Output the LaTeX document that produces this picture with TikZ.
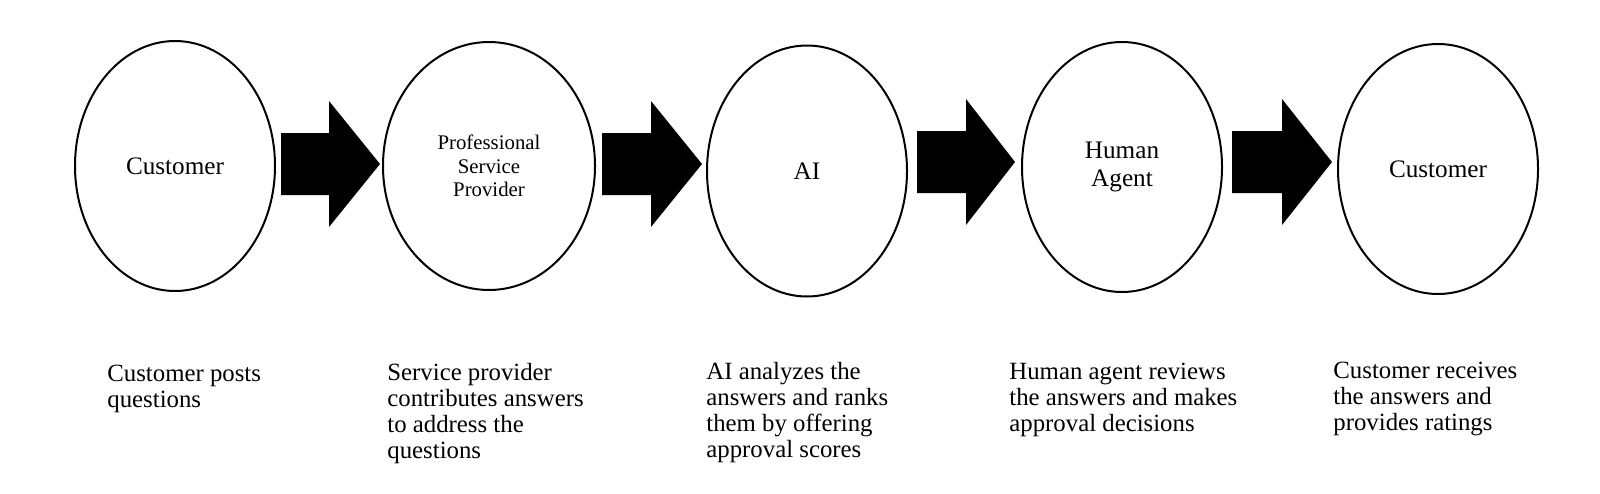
\documentclass[tikz,border=0pt]{standalone}
\usepackage{fontspec}
\setmainfont{Liberation Serif}
\usetikzlibrary{shapes.geometric}
\tikzset{
  stage/.style={ellipse, draw=black, line width=1pt, inner sep=0pt, minimum width=100pt, minimum height=125pt, align=center, font=\fontsize{12.6}{14}\selectfont},
  blockarrow/.style={fill=black, draw=none},
  desc/.style={anchor=base west, inner sep=0pt, font=\fontsize{12.4}{13}\selectfont}
}
\newcommand{\desctext}[1]{\parbox[t]{140pt}{\raggedright #1}}
\begin{document}
\begin{tikzpicture}[x=0.5pt,y=-0.5pt]
\useasboundingbox (0,0) rectangle (1600,493);
% stages
\node[stage] (e1) at (175,166) {Customer};
\node[stage, minimum width=106pt, minimum height=124pt, font=\fontsize{10.4}{11.7}\selectfont] (e2) at (489,166) {Professional\\Service\\Provider};
\node[stage, minimum height=125.5pt] (e3) at (807,171) {AI};
\node[stage] (e4) at (1122,167) {Human\\Agent};
\node[stage] (e5) at (1438,169) {Customer};
% block arrows
\fill[blockarrow] (281,133) -- (329,133) -- (329,101) -- (380,164) -- (329,227) -- (329,195) -- (281,195) -- cycle;
\fill[blockarrow] (602,133) -- (651,133) -- (651,101) -- (702,164) -- (651,227) -- (651,195) -- (602,195) -- cycle;
\fill[blockarrow] (917,131) -- (966,131) -- (966,99) -- (1015,162) -- (966,225) -- (966,193) -- (917,193) -- cycle;
\fill[blockarrow] (1232,131) -- (1282,131) -- (1282,99) -- (1332,162) -- (1282,225) -- (1282,193) -- (1232,193) -- cycle;
% descriptions
\node[desc] (d1) at (107,381) {\desctext{Customer posts\\questions}};
\node[desc] (d2) at (387,380) {\desctext{Service provider\\contributes answers\\to address the\\questions}};
\node[desc] (d3) at (706,379) {\desctext{AI analyzes the\\answers and ranks\\them by offering\\approval scores}};
\node[desc] (d4) at (1009,379) {\desctext{Human agent reviews\\the answers and makes\\approval decisions}};
\node[desc] (d5) at (1333,378) {\desctext{Customer receives\\the answers and\\provides ratings}};
\end{tikzpicture}
\end{document}
